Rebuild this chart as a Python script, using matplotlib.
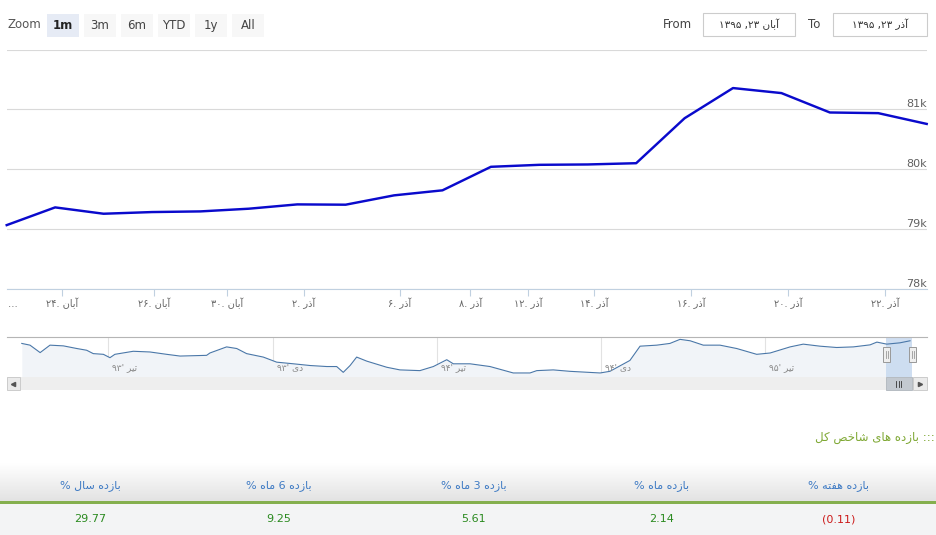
import re
import numpy as np
import matplotlib
matplotlib.use('Agg')
import matplotlib.pyplot as plt
import matplotlib.transforms as mtransforms
from matplotlib.colors import LinearSegmentedColormap
from matplotlib.patches import Rectangle

plt.rcParams['font.family'] = ['DejaVu Sans']

# =========================
# data
# =========================
# main series: trading days from آبان ۲۳ to آذر ۲۳ ۱۳۹۵ (ordinal axis)
index_values = [79067, 79363, 79257, 79285, 79296, 79341, 79413, 79408, 79564, 79648,
                80041, 80074, 80080, 80101, 80852, 81356, 81272, 80948, 80937, 80757]
y_ticks = [78000, 79000, 80000, 81000, 82000]
y_tick_labels = ['78k', '79k', '80k', '81k', '']

# x ticks (fractional ordinal positions) and labels
tick_pos = [1.14, 3.04, 4.55, 6.14, 8.12, 9.57, 10.77, 12.13, 14.13, 16.14, 18.14]
tick_days = ['۲۴', '۲۶', '۳۰', '۲', '۶', '۸', '۱۲', '۱۴', '۱۶', '۲۰', '۲۲']
tick_months = ['آبان', 'آبان', 'آبان', 'آذر', 'آذر', 'آذر', 'آذر', 'آذر', 'آذر', 'آذر', 'آذر']

# navigator series (months since تیر ۱۳۹۳)
nav_month = [-3.16, -2.86, -2.49, -2.13, -1.64, -1.15, -0.79, -0.55, -0.18, 0.06,
             0.24, 0.91, 1.52, 2.13, 2.62, 3.59, 3.71, 4.32, 4.69, 5.05,
             5.66, 6.15, 6.76, 7.37, 7.98, 8.34, 8.58, 8.83, 9.07, 9.44,
             10.17, 10.65, 11.38, 11.87, 12.36, 12.60, 13.21, 13.94, 14.79, 15.40,
             15.65, 16.25, 16.86, 17.96, 18.32, 19.05, 19.42, 20.03, 20.51, 20.88,
             21.25, 21.73, 22.34, 22.95, 23.68, 24.17, 24.90, 25.38, 25.99, 26.60,
             27.21, 27.82, 28.07, 28.43, 28.91, 29.28]
nav_value = [79140, 78090, 73550, 78090, 77650, 76040, 74980, 72930, 72500, 70450,
             72500, 74360, 73930, 72500, 71440, 71880, 73310, 77030, 76040, 72930,
             70820, 67720, 66720, 65670, 65050, 65050, 61510, 65670, 70820, 68340,
             64610, 63000, 62560, 65050, 69210, 66720, 66720, 65050, 61130, 61130,
             62560, 63000, 62130, 61130, 62130, 68770, 77470, 78090, 79140, 81630,
             80760, 78090, 78090, 76040, 72500, 73310, 77030, 78710, 77470, 76660,
             77030, 78270, 79950, 78710, 79510, 80760]
nav_ticks = [0, 6, 12, 18, 24]
nav_tick_labels = ["تیر '۹۳", "دی '۹۳", "تیر '۹۴", "دی '۹۴", "تیر '۹۵"]
nav_range = (-3.2, 29.37)
nav_selected = (28.42, 29.37)

zoom_buttons = ['1m', '3m', '6m', 'YTD', '1y', 'All']
date_from = 'آبان ۲۳, ۱۳۹۵'
date_to = 'آذر ۲۳, ۱۳۹۵'

table_title = '::: بازده های شاخص کل'
table_headers = ['بازده سال %', 'بازده 6 ماه %', 'بازده 3 ماه %', 'بازده ماه %', 'بازده هفته %']
table_values = [29.77, 9.25, 5.61, 2.14, -0.11]

# =========================
# minimal Persian shaping (isolated, final, initial, medial)
# =========================
FORMS = {
    'ا': ('\uFE8D', '\uFE8E', None, None),
    'آ': ('\uFE81', '\uFE82', None, None),
    'د': ('\uFEA9', '\uFEAA', None, None),
    'ذ': ('\uFEAB', '\uFEAC', None, None),
    'ر': ('\uFEAD', '\uFEAE', None, None),
    'ز': ('\uFEAF', '\uFEB0', None, None),
    'ب': ('\uFE8F', '\uFE90', '\uFE91', '\uFE92'),
    'ت': ('\uFE95', '\uFE96', '\uFE97', '\uFE98'),
    'خ': ('\uFEA5', '\uFEA6', '\uFEA7', '\uFEA8'),
    'س': ('\uFEB1', '\uFEB2', '\uFEB3', '\uFEB4'),
    'ش': ('\uFEB5', '\uFEB6', '\uFEB7', '\uFEB8'),
    'ص': ('\uFEB9', '\uFEBA', '\uFEBB', '\uFEBC'),
    'ف': ('\uFED1', '\uFED2', '\uFED3', '\uFED4'),
    'ل': ('\uFEDD', '\uFEDE', '\uFEDF', '\uFEE0'),
    'م': ('\uFEE1', '\uFEE2', '\uFEE3', '\uFEE4'),
    'ن': ('\uFEE5', '\uFEE6', '\uFEE7', '\uFEE8'),
    'ه': ('\uFEE9', '\uFEEA', '\uFEEB', '\uFEEC'),
    'ی': ('\uFBFC', '\uFBFD', '\uFBFE', '\uFBFF'),
    'ک': ('\uFB8E', '\uFB8F', '\uFB90', '\uFB91'),
}


def shape(s):
    out = []
    for k, ch in enumerate(s):
        if ch not in FORMS:
            out.append(ch)
            continue
        prev = s[k - 1] if k > 0 else ''
        nxt = s[k + 1] if k + 1 < len(s) else ''
        join_prev = prev in FORMS and FORMS[prev][2] is not None
        join_next = FORMS[ch][2] is not None and nxt in FORMS
        iso, fin, ini, med = FORMS[ch]
        if join_prev and join_next:
            out.append(med)
        elif join_prev:
            out.append(fin)
        elif join_next:
            out.append(ini)
        else:
            out.append(iso)
    return ''.join(out)


def fa(s):
    # right-to-left run: reverse, but keep number runs left-to-right
    tokens = re.findall(r'[0-9۰-۹]+|.', shape(s))
    return ''.join(tokens[::-1])


# =========================
# figure
# =========================
W, H = 937, 535
fig = plt.figure(figsize=(W / 100, H / 100), dpi=100)


def box(x0, y0, x1, y1):
    return [x0 / W, 1 - y1 / H, (x1 - x0) / W, (y1 - y0) / H]


def overlay():
    a = fig.add_axes([0, 0, 1, 1])
    a.set_xlim(0, W)
    a.set_ylim(H, 0)
    a.axis('off')
    a.set_facecolor('none')
    return a


ui = overlay()

# ---- range selector ----
ui.text(8, 25, 'Zoom', fontsize=8.5, color='#555555', va='center', ha='left')
bx = 47
for name in zoom_buttons:
    sel = name == '1m'
    ui.add_patch(Rectangle((bx, 14), 32, 23, facecolor='#E6EBF5' if sel else '#F7F7F7',
                           edgecolor='none'))
    ui.text(bx + 16, 25.5, name, fontsize=8.5, color='#222222' if sel else '#444444',
            fontweight='bold' if sel else 'normal', ha='center', va='center')
    bx += 37

ui.text(663, 25, 'From', fontsize=8.5, color='#444444', va='center', ha='left')
ui.text(808, 25, 'To', fontsize=8.5, color='#444444', va='center', ha='left')
for (x0, x1), txt in [((703, 795), date_from), ((833, 927), date_to)]:
    ui.add_patch(Rectangle((x0, 13), x1 - x0, 23, facecolor='white', edgecolor='#CCCCCC', lw=0.8))
    ui.text((x0 + x1) / 2, 24.5, fa(txt), fontsize=7.5, color='#333333', ha='center', va='center')

# ---- main chart ----
ax = fig.add_axes(box(6.7, 49.5, 926.7, 289))
ax.set_facecolor('none')
x = np.arange(len(index_values))
ax.plot(x, index_values, color='#0A0ACC', lw=1.75, solid_joinstyle='round', zorder=3, clip_on=False)
ax.set_xlim(0, len(index_values) - 1)
ax.set_ylim(y_ticks[0], y_ticks[-1])
for v in y_ticks:
    ax.axhline(v, color='#D9D9D9', lw=0.8, zorder=1)
ax.set_yticks([])
for s in ['left', 'right', 'top']:
    ax.spines[s].set_visible(False)
ax.spines['bottom'].set_color('#C0D0E0')
ax.spines['bottom'].set_linewidth(0.8)
ax.set_xticks(tick_pos)
ax.set_xticklabels([d + '. ' + fa(m) for d, m in zip(tick_days, tick_months)])
ax.tick_params(axis='x', length=5, width=0.8, color='#C0D0E0', labelsize=7,
               labelcolor='#666666', pad=1.5)

lab_tr = mtransforms.offset_copy(ax.get_yaxis_transform(), fig=fig, x=0, y=2, units='dots')
for v, lab in zip(y_ticks, y_tick_labels):
    ax.text(1.0, v, lab, transform=lab_tr, ha='right', va='baseline', fontsize=8, color='#606060')
ui.text(8, 304, '…', fontsize=7, color='#666666', ha='left', va='center')

# ---- navigator ----
nav = fig.add_axes(box(20.7, 337, 912.5, 377))
nav.set_facecolor('none')
lo = min(nav_value) - 0.12 * (max(nav_value) - min(nav_value))
hi = max(nav_value) + 0.07 * (max(nav_value) - min(nav_value))
nav.fill_between(nav_month, nav_value, lo, color='#F1F4F8', lw=0, zorder=1)
nav.plot(nav_month, nav_value, color='#4A77A8', lw=0.8, zorder=3)
nav.axvspan(nav_selected[0], nav_selected[1], color='#CADBF0', alpha=0.9, lw=0, zorder=2)
for t, lab in zip(nav_ticks, nav_tick_labels):
    nav.axvline(t, color='#E2E2E2', lw=0.8, zorder=0)
    nav.text(t, lo, ' ' + fa(lab), fontsize=6.5, color='#888888', ha='left', va='bottom',
             transform=mtransforms.offset_copy(nav.transData, fig=fig, x=1, y=5, units='dots'))
nav.set_xlim(*nav_range)
nav.set_ylim(lo, hi)
nav.axis('off')

top = overlay()
top.plot([7, 927], [337, 337], color='#B5B5B5', lw=0.8)

# handles
for hx in [887, 913]:
    top.add_patch(Rectangle((hx - 4, 347), 7, 15, facecolor='#EFEFEF', edgecolor='#999999', lw=0.7, zorder=5))
    for dx in (-1.3, 0.7):
        top.plot([hx + dx, hx + dx], [351, 358], color='#999999', lw=0.6, zorder=6)

# scrollbar
top.add_patch(Rectangle((7, 377), 920, 13, facecolor='#EEEEEE', edgecolor='none'))
top.add_patch(Rectangle((7, 377), 13, 13, facecolor='#EBEBEB', edgecolor='#CCCCCC', lw=0.7))
top.add_patch(Rectangle((913, 377), 14, 13, facecolor='#EBEBEB', edgecolor='#CCCCCC', lw=0.7))
top.plot([13.5], [383.5], marker='<', ms=3, color='#555555')
top.plot([920], [383.5], marker='>', ms=3, color='#555555')
top.add_patch(Rectangle((886, 377), 26, 13, facecolor='#C3C9D0', edgecolor='#B0B6BD', lw=0.6))
for dx in (-2.5, 0, 2.5):
    top.plot([899 + dx, 899 + dx], [381, 386.5], color='#333333', lw=0.6)

# ---- returns table ----
ui.text(935, 437, fa(table_title), fontsize=8.5, color='#7FA834', ha='right', va='center')

grad = LinearSegmentedColormap.from_list('hdr', ['#FFFFFF', '#E3E3E3'])
ui.imshow(np.linspace(0, 1, 60).reshape(-1, 1), cmap=grad, aspect='auto',
          extent=(0, W, 501, 463), zorder=0)
ui.set_xlim(0, W)
ui.set_ylim(H, 0)
ui.add_patch(Rectangle((0, 501), W, 3, facecolor='#84AF4E', edgecolor='none'))
ui.add_patch(Rectangle((0, 504), W, H - 504, facecolor='#F3F4F5', edgecolor='none'))

col_x = [90, 279, 474, 662, 839]
for cx, head, val in zip(col_x, table_headers, table_values):
    ui.text(cx, 486, fa(head), fontsize=8, color='#3F7BC4', ha='center', va='center')
    if val < 0:
        txt, col = f'({abs(val):.2f})', '#CC1B1B'
    else:
        txt, col = f'{val:.2f}', '#2A8A1F'
    ui.text(cx, 519, txt, fontsize=8, color=col, ha='center', va='center')

fig.savefig('out.png', dpi=100)
